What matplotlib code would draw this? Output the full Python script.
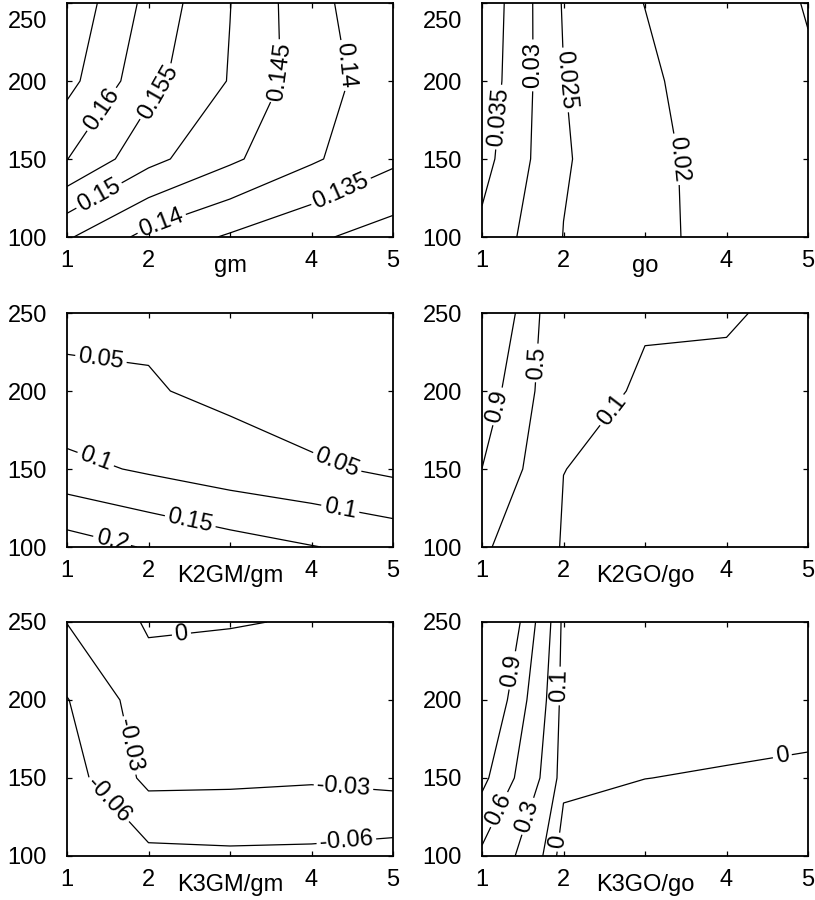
import numpy as np
import matplotlib
matplotlib.use("Agg")
import matplotlib.pyplot as plt
from matplotlib.transforms import ScaledTranslation

plt.rcParams['font.family'] = ['Liberation Sans', 'DejaVu Sans']

# grid of the sweep: x = ratio, y = second parameter
x = [1, 2, 3, 4, 5]
y = [100, 150, 200, 250]

# values on the grid (rows = y, cols = x)
z_gm = [[0.1456, 0.1384, 0.1344, 0.1309, 0.1277],
        [0.1601, 0.1515, 0.1459, 0.1407, 0.1360],
        [0.1666, 0.1566, 0.1497, 0.1421, 0.1374],
        [0.1688, 0.1586, 0.1501, 0.1415, 0.1362]]
z_go = [[0.0338, 0.0249, 0.0215, 0.0181, 0.0165],
        [0.0368, 0.0254, 0.0218, 0.0174, 0.0160],
        [0.0382, 0.0251, 0.0212, 0.0162, 0.0152],
        [0.0389, 0.0246, 0.0199, 0.0160, 0.0149]]
z_k2gm = [[0.224, 0.196, 0.1717, 0.152, 0.1345],
          [0.115, 0.0929, 0.0732, 0.0591, 0.0398],
          [0.058, 0.054, 0.0391, 0.0177, 0.015],
          [0.041, 0.0418, 0.030, 0.020, 0.015]]
z_k2go = [[0.56, 0.077, 0.04, 0.03, 0.02],
          [0.898, 0.102, 0.05, 0.05, 0.04],
          [1.134, 0.158, 0.0827, 0.089, 0.07],
          [1.447, 0.113, 0.1125, 0.105, 0.0865]]
z_k3gm = [[-0.085, -0.0677, -0.0653, -0.0661, -0.0718],
          [-0.074, -0.0225, -0.024, -0.0266, -0.0217],
          [-0.0613, -0.0131, -0.0213, -0.020, -0.020],
          [-0.0293, 0.0033, 0.002, -0.0024, -0.005]]
z_k3go = [[0.54, -0.05, -0.04, -0.04, -0.04],
          [0.979, 0.0236, 0.0005, -0.005, -0.01],
          [1.29, 0.0375, 0.03, 0.026, 0.02],
          [1.65, 0.052, 0.05, 0.05, 0.05]]

lev_gm = [0.13, 0.135, 0.14, 0.145, 0.15, 0.155, 0.16, 0.165]
lev_go = [0.015, 0.02, 0.025, 0.03, 0.035]
lev_k2gm = [0.05, 0.1, 0.15, 0.2]
lev_k2go = [0.1, 0.5, 0.9]
lev_k3gm = [-0.06, -0.03, 0]
lev_k3go = [0, 0.1, 0.3, 0.6, 0.9]

xlabels = ["gm", "go", "K2GM/gm", "K2GO/go", "K3GM/gm", "K3GO/go"]

# where the inline labels sit (data coords)
lab_gm = [(1.45, 181), (2.14, 192), (1.41, 125), (2.16, 108.6),
          (3.65, 206), (4.43, 210), (4.39, 126)]
lab_go = [(1.17, 177), (1.62, 210), (2.07, 201), (3.45, 150)]
lab_k2gm = [(1.41, 218), (4.31, 153.6), (1.35, 156), (4.35, 123.6),
            (2.51, 116), (1.57, 107.5)]
lab_k2go = [(1.20, 190), (1.67, 218), (2.59, 188)]
lab_k3gm = [(2.41, 239.5), (1.78, 171), (4.39, 142.5), (1.53, 137), (4.43, 108)]
lab_k3go = [(1.37, 219), (1.20, 130), (1.53, 126), (1.94, 209), (1.92, 109),
            (4.69, 162.5)]

panels = [(z_gm, lev_gm, lab_gm), (z_go, lev_go, lab_go),
          (z_k2gm, lev_k2gm, lab_k2gm), (z_k2go, lev_k2go, lab_k2go),
          (z_k3gm, lev_k3gm, lab_k3gm), (z_k3go, lev_k3go, lab_k3go)]

W, H = 815, 900
fig = plt.figure(figsize=(W / 100, H / 100), dpi=100)
lefts = [67 / W, 482 / W]
bottoms = [1 - 237 / H, 1 - 547 / H, 1 - 856 / H]
FS = 17

for i, (z, lev, labpos) in enumerate(panels):
    r, c = divmod(i, 2)
    ax = fig.add_axes([lefts[c], bottoms[r], 326 / W, 234 / H])
    cs = ax.contour(x, y, np.array(z), levels=lev, colors="k", linewidths=0.9,
                    linestyles="solid")
    ax.clabel(cs, manual=labpos, inline=True, fontsize=FS, fmt="%g",
              inline_spacing=3)
    ax.set_xlim(1, 5); ax.set_ylim(100, 250)
    ax.set_xticks([1, 2, 3, 4, 5]); ax.set_xticklabels(["1", "2", "", "4", "5"])
    ax.set_yticks([100, 150, 200, 250])
    ax.tick_params(direction="in", top=True, right=True, length=3.6, width=0.9,
                   labelsize=FS)
    ax.tick_params(axis="x", pad=9.5)
    ax.tick_params(axis="y", pad=14.5)
    for sp in ax.spines.values():
        sp.set_linewidth(1.3)
    ax.annotate(xlabels[i], xy=(3, 0), xycoords=("data", "axes fraction"),
                xytext=(0, -25.2), textcoords="offset points",
                ha="center", va="baseline", fontsize=FS)
    if r == 0:                                   # top label pushed inside the page
        tl = ax.get_yticklabels()[-1]
        tl.set_transform(tl.get_transform() +
                         ScaledTranslation(0, -0.17, fig.dpi_scale_trans))

fig.savefig("out.png", dpi=100)
